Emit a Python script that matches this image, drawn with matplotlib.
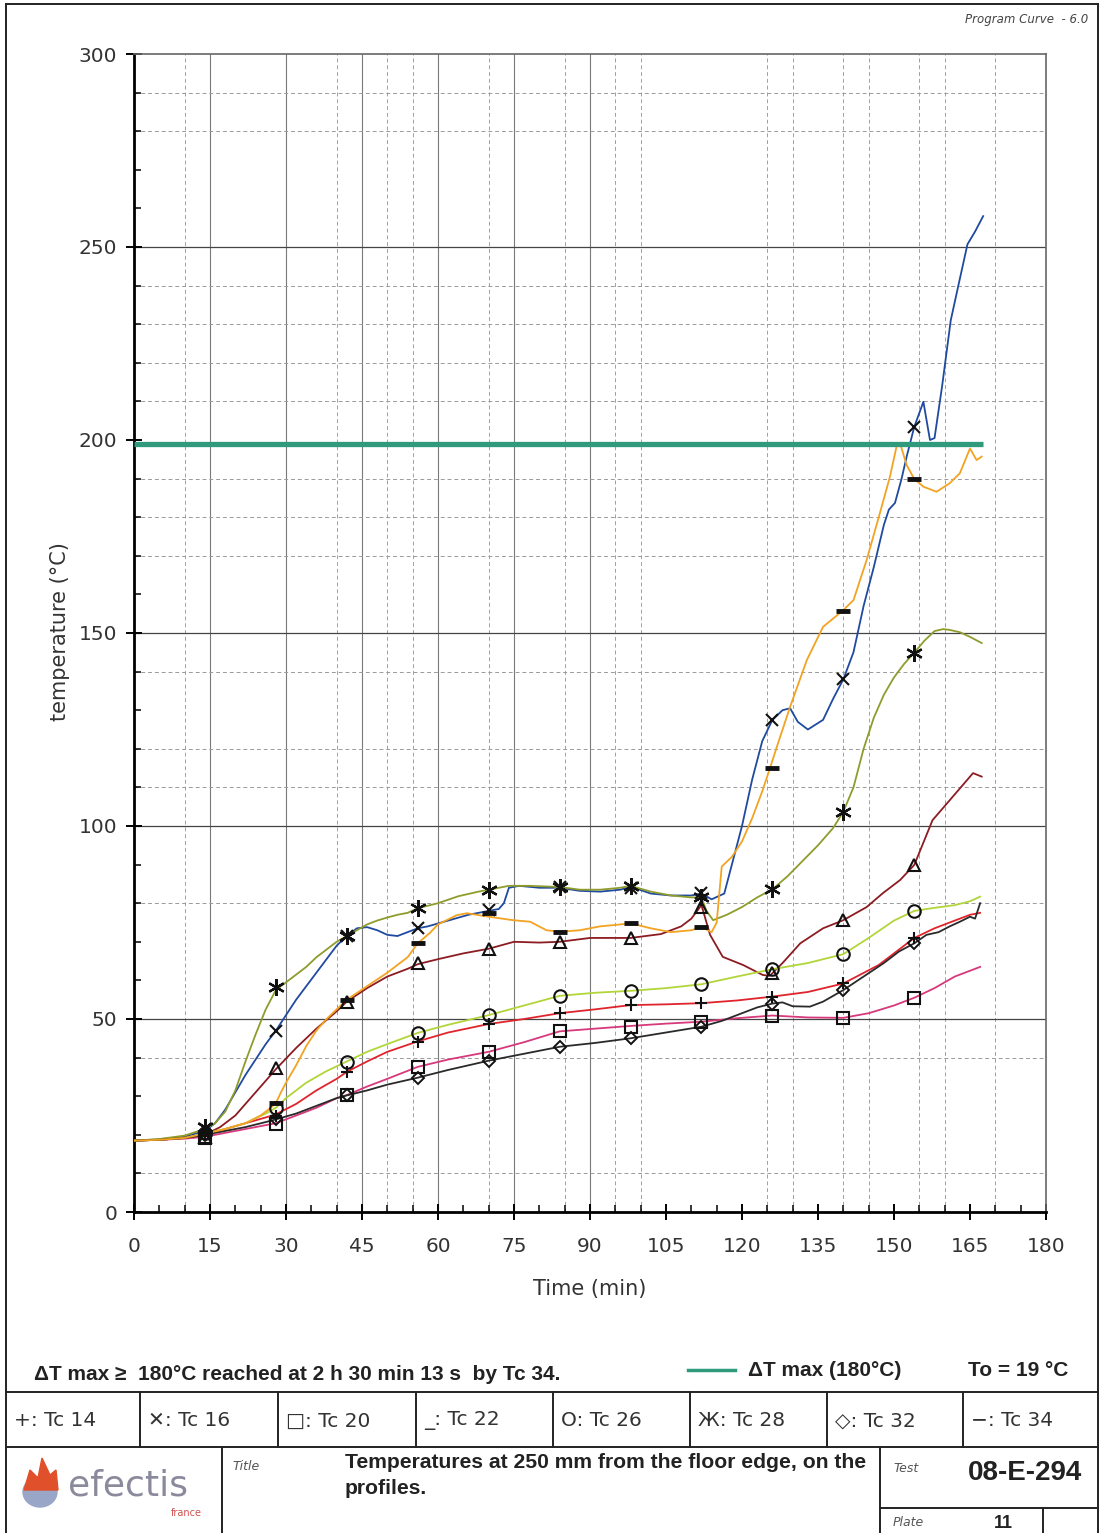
import matplotlib
matplotlib.use("Agg")
import matplotlib.pyplot as plt
from matplotlib.patches import Ellipse, Polygon

W, H = 1102, 1533

# ---- data ----
MARK_T = [14, 28, 42, 56, 70, 84, 98, 112, 126, 140, 154]

tc14_t = [0, 5, 10, 14, 18, 22, 26, 28, 32, 36, 40, 42, 46, 50, 56, 62, 70, 77, 84, 91, 98, 105, 112,
          119, 126, 133, 140, 147, 154, 158, 162, 165, 167]
tc14_v = [18.5, 18.7, 19.2, 20, 21.5, 23, 24.5, 25.3, 28, 31.5, 34.5, 36.3, 39, 41.5, 44.2, 46.5, 48.7,
          50, 51.5, 52.5, 53.6, 53.8, 54.1, 54.8, 55.8, 57, 59.2, 64, 71, 73.5, 75.5, 77, 77.5]
tc14_m = [20, 25, 36.3, 44.1, 48.7, 51.5, 53.6, 54.1, 55.8, 59.2, 71]

tc16_t = [0, 5, 10, 14, 16, 18, 20, 22, 24, 26, 28, 30, 32, 34, 36, 38, 40, 42, 44, 46, 48, 50, 52, 54,
          56, 58, 62, 66, 70, 72, 73, 74, 76, 80, 84, 88, 92, 96, 98, 102, 106, 110, 112, 114, 116.5,
          118, 120, 122, 124, 126, 128, 129.5, 131, 133, 136, 138, 140, 142, 144, 146, 148, 149, 150.2,
          151.5, 152.5, 154, 155.8, 157.1, 158, 159.5, 161.2, 162.8, 164.5, 166, 167.6]
tc16_v = [18.5, 18.8, 19.5, 21, 23, 26.5, 31, 35.5, 39.5, 43.5, 47, 51, 55, 58.5, 62, 65.5, 69, 71.5,
          73.5, 73.8, 73, 71.8, 71.5, 72.5, 73.5, 74, 75.5, 77, 78, 78.5, 80, 84, 84.5, 84, 84, 83.2, 83,
          83.5, 84.3, 82.5, 82, 82, 82.5, 81, 82.5, 90, 100, 112, 122, 127.5, 130, 130.5, 127, 125,
          127.5, 133, 138, 145, 157, 167, 178, 182, 183.7, 190, 195.7, 203.4, 209.9, 200, 200.5, 214,
          231, 240.6, 250.7, 254, 258]
tc16_m = [21.5, 47, 71.5, 73.5, 78.2, 84.3, 84, 82.6, 127.5, 138, 203.4]

tc20_t = [0, 5, 10, 14, 18, 22, 26, 28, 32, 36, 40, 42, 46, 50, 56, 62, 70, 77, 84, 91, 98, 105, 112,
          119, 126, 133, 140, 145, 150, 154, 158, 162, 165, 167]
tc20_v = [18.5, 18.7, 19, 19.5, 20.5, 21.5, 22.5, 23, 25, 27, 29.5, 30.3, 32.5, 34.5, 37.6, 39.5, 41.5,
          44, 46.8, 47.5, 48.2, 48.8, 49.3, 50.2, 50.9, 50.4, 50.3, 51.5, 53.5, 55.5, 58, 61, 62.5, 63.5]
tc20_m = [19.2, 22.8, 30.3, 37.6, 41.5, 47, 48, 49.3, 50.9, 50.3, 55.5]

tc22_t = [0, 5, 10, 14, 17, 20, 24, 28, 32, 36, 40, 42, 46, 50, 54, 56, 60, 65, 70, 75, 80, 84, 90, 98,
          104, 108, 110, 112, 113.7, 116.2, 120.2, 124.1, 125.5, 128, 131.5, 136, 140, 144.6, 147.8,
          151.2, 154, 157.6, 161.6, 165.6, 167.3]
tc22_v = [18.5, 18.7, 19.2, 20, 22, 25, 31, 37, 42.5, 47.5, 52, 54.5, 58, 61, 63, 64.2, 65.5, 67, 68.2,
          70, 69.8, 70, 71, 71, 72, 74, 76, 79.5, 71.8, 66.1, 64, 61.4, 61.2, 64.5, 69.6, 73.5, 75.6, 79,
          82.6, 86, 89.9, 101.5, 107.6, 113.7, 112.8]
tc22_m = [19.5, 37.2, 54.5, 64.4, 68.1, 70, 70.9, 79, 62, 75.6, 89.9]

tc26_t = [0, 5, 10, 14, 18, 22, 26, 28, 30, 34, 38, 42, 46, 50, 56, 62, 70, 77, 84, 91, 98, 105, 112,
          119, 126, 133, 140, 145, 150, 154, 158, 162, 165, 167]
tc26_v = [18.5, 18.7, 19.2, 20.3, 21.5, 23, 25.5, 27, 29.5, 33.5, 36.5, 39, 41.5, 43.5, 46.4, 48.5, 51,
          53.5, 56, 56.8, 57.3, 58, 59, 61, 62.9, 64.5, 66.8, 71, 75.5, 78, 78.8, 79.5, 80.5, 81.7]
tc26_m = [20.5, 26.9, 38.9, 46.4, 51, 56, 57.3, 59, 62.9, 66.8, 78]

tc28_t = [0, 5, 10, 14, 16, 18, 20, 22, 24, 26, 28, 30, 32, 34, 36, 38, 40, 42, 44, 46, 48, 50, 52, 54,
          56, 60, 64, 68, 70, 74, 78, 82, 84, 88, 92, 96, 98, 102, 106, 110, 112, 113, 114.3, 117, 120,
          123, 126, 129, 132, 135, 138, 140, 142, 144, 146, 148, 150, 152, 154, 156, 158, 159.7, 161,
          163, 165, 167.3]
tc28_v = [18.5, 18.9, 19.8, 21.5, 23, 26, 31.5, 39, 46, 52.5, 57.5, 59.5, 61.5, 63.5, 66, 68, 70, 71.5,
          73, 74.5, 75.5, 76.3, 77, 77.5, 78.7, 80, 81.8, 83, 83.5, 84.5, 84.5, 84.3, 84.2, 83.5, 83.5,
          84, 84.5, 83, 82, 81.5, 81.5, 78, 75.6, 77, 79, 81.5, 83.6, 87, 91, 95, 99.5, 103.7, 110, 120,
          128, 134, 138.5, 142, 144.9, 148, 150.5, 151, 150.8, 150.2, 149, 147.4]
tc28_m = [22, 58.4, 71.4, 78.7, 83.4, 84.3, 84.5, 81.7, 83.6, 103.7, 144.9]

tc32_t = [0, 5, 10, 14, 18, 22, 26, 28, 32, 36, 40, 42, 46, 50, 56, 62, 70, 77, 84, 91, 98, 105, 112,
          116, 120, 123, 126, 128, 130, 133.4, 136, 140, 144, 148, 151, 154, 156.4, 158.8, 161, 163,
          165, 166, 167]
tc32_v = [18.5, 18.7, 19.2, 20, 21, 22, 23.3, 24, 25.5, 27.5, 29.5, 30.2, 31.5, 33, 34.8, 36.8, 39.2,
          41, 42.8, 43.8, 45, 46.5, 48, 49.5, 51.5, 53, 54, 54.3, 53.3, 53.2, 54.5, 57.5, 61, 64.5,
          67.5, 69.6, 71.8, 72.5, 74, 75.2, 76.5, 76, 80]
tc32_m = [20, 24, 30.2, 34.8, 39.2, 42.8, 45, 48, 54, 57.5, 69.6]

tc34_t = [0, 5, 10, 14, 18, 22, 25, 27, 28, 29, 30, 32, 34, 36, 38, 40, 42, 46, 50, 54, 56, 58.4, 60,
          63.7, 65.7, 70, 74.8, 78.2, 81.4, 84, 88, 92, 96, 98, 102, 106, 110, 112, 114, 115, 116,
          118, 120, 122, 124, 125.5, 127, 129.5, 132.8, 136, 139.8, 142, 144.6, 147.2, 149.2, 150.5,
          151.2, 152.5, 154, 155.8, 158.4, 161, 163, 165, 166.3, 167.3]
tc34_v = [18.5, 18.7, 19.2, 20.3, 21.5, 23, 25, 27, 28.2, 31, 33.5, 38, 43, 47, 50, 52.5, 55, 58.5, 62,
          66, 69.6, 72.3, 74.5, 76.9, 77.4, 76.5, 75.6, 75.2, 73, 72.6, 73, 74, 74.5, 74.8, 73.5, 72.5,
          73, 73.8, 72.5, 75, 89.5, 92, 96, 102, 109, 114.9, 121, 130.9, 143, 151.6, 155.7, 158.5,
          168.9, 181, 190.5, 198.3, 199.1, 193.5, 189.9, 187.9, 186.6, 188.8, 191.4, 197.8, 194.8, 195.7]
tc34_m = [20.3, 28.2, 55, 69.6, 77.5, 72.6, 75, 73.9, 114.9, 155.7, 189.9]

LIMIT_T = [0, 167.5]
LIMIT_V = [199, 199]

SERIES = [
    ("Tc 14", tc14_t, tc14_v, tc14_m, "#e0242c", "+"),
    ("Tc 16", tc16_t, tc16_v, tc16_m, "#1f4aa0", "x"),
    ("Tc 20", tc20_t, tc20_v, tc20_m, "#d8387c", "s"),
    ("Tc 22", tc22_t, tc22_v, tc22_m, "#8c1c22", "^"),
    ("Tc 26", tc26_t, tc26_v, tc26_m, "#b2d53a", "o"),
    ("Tc 28", tc28_t, tc28_v, tc28_m, "#8f9c2c", (6, 2, 0)),
    ("Tc 32", tc32_t, tc32_v, tc32_m, "#2a2a2a", "D"),
    ("Tc 34", tc34_t, tc34_v, tc34_m, "#f2a322", "_"),
]

LEGEND_LABELS = ["+: Tc 14", "\u2715: Tc 16", "\u25a1: Tc 20", "_: Tc 22",
                 "O: Tc 26", "\u0416: Tc 28", "\u25c7: Tc 32", "\u2212: Tc 34"]

# grid lines that are visible on the plate
X_MAJOR = [15, 30, 45, 60, 75, 90]
X_MINOR = [10, 40, 50, 55, 70, 85, 95, 100, 125, 130, 140, 145, 155, 160, 170]
Y_MAJOR = [50, 100, 150, 250]
Y_MINOR = [10, 40, 80, 110, 120, 140, 170, 180, 190, 210, 220, 230, 240, 280, 290]


def px(x, y):
    return x / W, 1 - y / H


plt.rcParams['font.family'] = ['DejaVu Sans']

fig = plt.figure(figsize=(W / 100, H / 100), dpi=100)
ax = fig.add_axes([134 / W, 1 - 1212 / H, 912 / W, 1158 / H])

for xv in X_MAJOR:
    ax.axvline(xv, color="#7a7a7a", lw=0.8, zorder=1)
for xv in X_MINOR:
    ax.axvline(xv, color="#a0a0a0", lw=0.7, ls=(0, (4, 3)), zorder=1)
for yv in Y_MAJOR:
    ax.axhline(yv, color="#444444", lw=0.9, zorder=1)
for yv in Y_MINOR:
    ax.axhline(yv, color="#9a9a9a", lw=0.7, ls=(0, (4, 3)), zorder=1)

ax.plot(LIMIT_T, LIMIT_V, color="#2f9a7c", lw=3.8, zorder=3.5, solid_capstyle="butt")

for name, t, v, m, col, mk in SERIES:
    ax.plot(t, v, color=col, lw=1.3, zorder=3)
    if mk == "_":
        ax.plot(MARK_T, m, ls="none", marker="_", ms=10, mew=3.5, color="#111111", zorder=4)
    elif mk == "D":
        ax.plot(MARK_T, m, ls="none", marker="D", ms=6.5, mew=1.4, mfc="none",
                mec="#111111", zorder=4)
    elif isinstance(mk, tuple):
        ax.plot(MARK_T, m, ls="none", marker=mk, ms=12, mew=1.6, mfc="none",
                mec="#111111", zorder=4)
    else:
        ax.plot(MARK_T, m, ls="none", marker=mk, ms=9, mew=1.5, mfc="none",
                mec="#111111", zorder=4)

ax.set_xlim(0, 180)
ax.set_ylim(0, 300)
ax.set_xticks(range(0, 181, 15))
ax.set_xticks(range(0, 181, 5), minor=True)
ax.set_yticks(range(0, 301, 50))
ax.set_yticks(range(0, 301, 10), minor=True)
ax.tick_params(which="major", direction="inout", length=12, width=1.4, labelsize=14.5,
               labelcolor="#333333")
ax.tick_params(which="minor", direction="in", length=5, width=1.1)
ax.tick_params(axis="x", which="major", pad=12)
ax.tick_params(axis="y", which="major", pad=6)
for s in ["left", "bottom"]:
    ax.spines[s].set_linewidth(2)
for s in ["top", "right"]:
    ax.spines[s].set_linewidth(1.2)
    ax.spines[s].set_color("#666666")

fig.text(*px(60, 632), "temperature (\u00b0C)", rotation=90, ha="center", va="center",
         fontsize=15, color="#333333")
fig.text(*px(590, 1289), "Time (min)", ha="center", va="center", fontsize=15, color="#333333")
fig.text(*px(1088, 20), "Program Curve  - 6.0", ha="right", va="center", fontsize=8.5,
         style="italic", color="#444444")

# ---- frame and bottom table ----
lines = [
    ((6, 6), (4, 1533)), ((1098, 1098), (4, 1533)), ((6, 1098), (4, 4)),
    ((6, 1098), (1392, 1392)), ((6, 1098), (1447, 1447)),
    ((222, 222), (1447, 1533)), ((880, 880), (1447, 1533)),
    ((880, 1098), (1508, 1508)), ((1043, 1043), (1508, 1533)),
]
cells = [6, 140, 278, 416, 553, 690, 827, 963, 1098]
for cx in cells[1:-1]:
    lines.append(((cx, cx), (1392, 1447)))
for xs, ys in lines:
    fig.add_artist(plt.Line2D([x / W for x in xs], [1 - y / H for y in ys],
                              color="#222222", lw=1.4))

bold_font = ['Liberation Sans', 'DejaVu Sans']
fig.text(*px(34, 1375), "\u0394T max \u2265  180\u00b0C reached at 2 h 30 min 13 s  by Tc 34.",
         ha="left", va="center", fontsize=15, fontweight="bold", family=bold_font, color="#222222")
fig.add_artist(plt.Line2D([688 / W, 735 / W], [1 - 1370 / H] * 2, color="#2f9a7c", lw=2.5))
fig.text(*px(748, 1370), "\u0394T max (180\u00b0C)", ha="left", va="center", fontsize=15,
         fontweight="bold", family=bold_font, color="#222222")
fig.text(*px(968, 1370), "To = 19 \u00b0C", ha="left", va="center", fontsize=15,
         fontweight="bold", family=bold_font, color="#222222")

for i, lab in enumerate(LEGEND_LABELS):
    fig.text(*px(cells[i] + 8, 1421), lab, ha="left", va="center", fontsize=14.5,
             family=['DejaVu Sans'], color="#333333")

fig.text(*px(232, 1467), "Title", ha="left", va="center", fontsize=9, style="italic",
         color="#555555")
fig.text(*px(345, 1462), "Temperatures at 250 mm from the floor edge, on the", ha="left",
         va="center", fontsize=15.2, fontweight="bold", family=bold_font, color="#222222")
fig.text(*px(345, 1489), "profiles.", ha="left", va="center", fontsize=15.2,
         fontweight="bold", family=bold_font, color="#222222")
fig.text(*px(893, 1469), "Test", ha="left", va="center", fontsize=9, style="italic",
         color="#555555")
fig.text(*px(1082, 1473), "08-E-294", ha="right", va="center", fontsize=20,
         fontweight="bold", family=bold_font, color="#222222")
fig.text(*px(893, 1523), "Plate", ha="left", va="center", fontsize=9, style="italic",
         color="#555555")
fig.text(*px(1003, 1524), "11", ha="center", va="center", fontsize=13, fontweight="bold",
         family=bold_font, color="#222222")

# logo
fig.add_artist(Ellipse(px(40, 1492), 34 / W, 30 / H, color="#9aa6c8"))
fig.add_artist(Polygon([px(24, 1490), px(30, 1470), px(38, 1478), px(42, 1458), px(50, 1475),
                        px(56, 1470), px(58, 1490)], closed=True, color="#e0502a"))
fig.text(*px(68, 1496), "efectis", ha="left", va="baseline", fontsize=26, color="#8a8a9c")
fig.text(*px(202, 1513), "france", ha="right", va="center", fontsize=7, color="#d05050")

fig.savefig("out.png", dpi=100)
